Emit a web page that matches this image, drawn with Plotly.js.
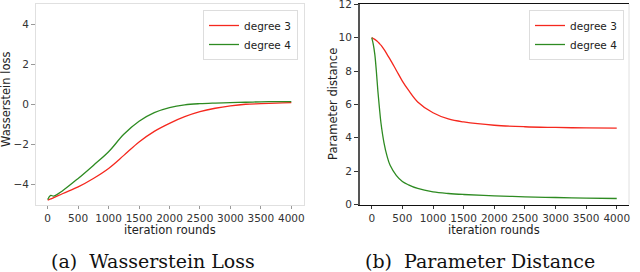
<!DOCTYPE html>
<html><head><meta charset="utf-8">
<script src="https://cdn.plot.ly/plotly-3.0.1.min.js"></script>
<style>html,body{margin:0;padding:0;background:#fff}#c{width:640px;height:272px}</style>
</head><body><div id="c"></div>
<script>
// Left panel: Wasserstein loss
const lossX = [0,50,100,250,500,750,1000,1250,1500,1750,2000,2250,2500,2750,3000,3250,3500,3750,4000];
const lossDeg3 = [-4.78,-4.72,-4.66,-4.45,-4.12,-3.7,-3.2,-2.55,-1.88,-1.35,-0.95,-0.62,-0.37,-0.2,-0.08,0.0,0.03,0.06,0.08];
const lossDeg4 = [-4.75,-4.55,-4.58,-4.3,-3.7,-3.05,-2.37,-1.5,-0.85,-0.42,-0.17,-0.03,0.03,0.06,0.08,0.1,0.12,0.13,0.13];
// Right panel: parameter distance
const distX = [0,25,50,75,100,125,150,200,250,300,400,500,600,750,1000,1250,1500,2000,2500,3000,3500,4000];
const distDeg3 = [10,9.95,9.9,9.83,9.75,9.65,9.55,9.3,9.0,8.7,8.05,7.4,6.85,6.15,5.5,5.13,4.95,4.75,4.66,4.62,4.59,4.58];
const distDeg4 = [10,9.6,9.0,8.0,6.8,5.8,4.9,3.7,2.9,2.35,1.75,1.38,1.18,0.96,0.76,0.66,0.6,0.52,0.46,0.42,0.38,0.36];
const seriesNames = ["degree 3","degree 4"];
const xTicks = [0,500,1000,1500,2000,2500,3000,3500,4000];
const lossTicks = [-4,-2,0,2,4];
const distTicks = [0,2,4,6,8,10,12];

const RED = "#f5281e", GREEN = "#2e8b22";
const W = 640, H = 272;
const px = v => v / W, py = v => 1 - v / H;

const traces = [
  {x: lossX, y: lossDeg3, name: seriesNames[0], mode: "lines", line: {color: RED, width: 1.3, shape: "spline"}, xaxis: "x", yaxis: "y", legend: "legend"},
  {x: lossX, y: lossDeg4, name: seriesNames[1], mode: "lines", line: {color: GREEN, width: 1.3, shape: "spline"}, xaxis: "x", yaxis: "y", legend: "legend"},
  {x: distX, y: distDeg3, name: seriesNames[0], mode: "lines", line: {color: RED, width: 1.3, shape: "spline"}, xaxis: "x2", yaxis: "y2", legend: "legend2"},
  {x: distX, y: distDeg4, name: seriesNames[1], mode: "lines", line: {color: GREEN, width: 1.3, shape: "spline"}, xaxis: "x2", yaxis: "y2", legend: "legend2"}
];

const tickFont = {family: "DejaVu Sans", size: 10.5, color: "#333"};
const axBase = {showgrid: false, zeroline: false, ticks: "outside", ticklen: 3.5, tickwidth: 1, tickfont: tickFont, fixedrange: true, ticklabeloverflow: "allow"};
const legBase = {font: {family: "DejaVu Sans", size: 10.5, color: "#222"}, bgcolor: "rgba(255,255,255,0.9)", bordercolor: "#ddd", borderwidth: 1, xanchor: "right", yanchor: "top", tracegroupgap: 0, itemwidth: 30};

const layout = {
  width: W, height: H, margin: {l: 0, r: 0, t: 0, b: 0}, paper_bgcolor: "#fff", plot_bgcolor: "#fff", showlegend: true,
  xaxis: Object.assign({}, axBase, {domain: [px(35.5), px(303.5)], range: [-200, 4200], tickvals: xTicks, showline: true, mirror: true, linecolor: "#e0e0e0", tickcolor: "#999", anchor: "y"}),
  yaxis: Object.assign({}, axBase, {domain: [py(204.5), py(4)], range: [-5, 5], tickvals: lossTicks, showline: true, mirror: true, linecolor: "#e0e0e0", tickcolor: "#999", anchor: "x"}),
  xaxis2: Object.assign({}, axBase, {domain: [px(359.5), px(629)], range: [-200, 4200], tickvals: xTicks, showline: true, mirror: true, linecolor: "#111", linewidth: 1.3, tickcolor: "#333", anchor: "y2"}),
  yaxis2: Object.assign({}, axBase, {domain: [py(204.5), py(4)], range: [0, 12.02], tickvals: distTicks, showline: true, mirror: false, linecolor: "#555", linewidth: 2, tickcolor: "#333", anchor: "x2"}),
  legend: Object.assign({}, legBase, {x: px(298), y: py(10)}),
  legend2: Object.assign({}, legBase, {x: px(624), y: py(10)}),
  shapes: [
    {type: "line", xref: "paper", yref: "paper", x0: px(629), x1: px(629), y0: py(204.5), y1: py(4), line: {color: "#e0e0e0", width: 1}}
  ],
  annotations: [
    {text: "iteration rounds", xref: "paper", yref: "paper", x: px(170), y: py(230), showarrow: false, font: {family: "DejaVu Sans", size: 11.5, color: "#222"}, xanchor: "center", yanchor: "middle"},
    {text: "iteration rounds", xref: "paper", yref: "paper", x: px(494), y: py(230), showarrow: false, font: {family: "DejaVu Sans", size: 11.5, color: "#222"}, xanchor: "center", yanchor: "middle"},
    {text: "Wasserstein loss", xref: "paper", yref: "paper", x: px(6), y: py(100), textangle: -90, showarrow: false, font: {family: "DejaVu Sans", size: 11.5, color: "#222"}, xanchor: "center", yanchor: "middle"},
    {text: "Parameter distance", xref: "paper", yref: "paper", x: px(333), y: py(104), textangle: -90, showarrow: false, font: {family: "DejaVu Sans", size: 11.5, color: "#222"}, xanchor: "center", yanchor: "middle"},
    {text: "(a)  Wasserstein Loss", xref: "paper", yref: "paper", x: px(153), y: py(261), showarrow: false, font: {family: "DejaVu Serif", size: 19, color: "#111"}, xanchor: "center", yanchor: "middle"},
    {text: "(b)  Parameter Distance", xref: "paper", yref: "paper", x: px(480), y: py(261), showarrow: false, font: {family: "DejaVu Serif", size: 19, color: "#111"}, xanchor: "center", yanchor: "middle"}
  ]
};

Plotly.newPlot("c", traces, layout, {displayModeBar: false, staticPlot: true});
</script></body></html>
